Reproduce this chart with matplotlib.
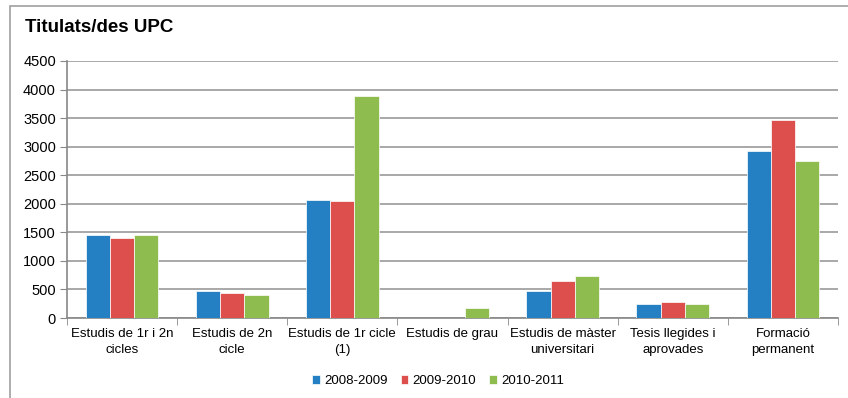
import matplotlib.pyplot as plt
import matplotlib.patches as patches
import numpy as np

categories = [
    "Estudis de 1r i 2n\ncicles",
    "Estudis de 2n\ncicle",
    "Estudis de 1r cicle\n(1)",
    "Estudis de grau",
    "Estudis de màster\nuniversitari",
    "Tesis llegides i\naprovades",
    "Formació\npermanent",
]
years = ["2008-2009", "2009-2010", "2010-2011"]
v_2008 = [1450, 480, 2070, 0, 480, 250, 2930]
v_2009 = [1400, 430, 2045, 0, 650, 275, 3465]
v_2010 = [1450, 405, 3890, 180, 735, 250, 2755]
colors = ["#2580c3", "#dc4f4d", "#8fbc4f"]

plt.rcParams["font.family"] = ["Liberation Sans", "DejaVu Sans"]

fig = plt.figure(figsize=(8.48, 3.98), dpi=100)
ax = fig.add_axes([67 / 848, 1 - 318 / 398, (838 - 67) / 848, (318 - 61) / 398])

# outer frame of the chart area
fig.patches.append(patches.Rectangle((10 / 848, -0.05), 1.0, 1 - 6 / 398 + 0.05,
                                     transform=fig.transFigure, fill=False,
                                     edgecolor="#a0a0a0", linewidth=1.2))

x = np.arange(len(categories))
w = 0.22
for i, (vals, lab) in enumerate(zip([v_2008, v_2009, v_2010], years)):
    ax.bar(x + (i - 1) * w, vals, w, color=colors[i], label=lab,
           edgecolor="white", linewidth=0.5, zorder=3)

ax.set_xlim(-0.5, len(categories) - 0.5)
ax.set_ylim(0, 4500)
ax.set_yticks(range(0, 4501, 500))
ax.tick_params(axis="y", labelsize=10.5, length=5, color="#888888", pad=3)
ax.yaxis.grid(True, color="#9a9a9a", linewidth=1.2, zorder=0)

ax.set_xticks(x)
ax.set_xticklabels(categories, fontsize=9.5, linespacing=1.45)
ax.tick_params(axis="x", length=0, pad=7)
ax.set_xticks(np.arange(-0.5, len(categories)), minor=True)
ax.tick_params(axis="x", which="minor", length=5, color="#888888")

for s in ["top", "right"]:
    ax.spines[s].set_visible(False)
for s in ["left", "bottom"]:
    ax.spines[s].set_color("#888888")
    ax.spines[s].set_linewidth(1.2)

fig.text(25 / 848, 1 - 28 / 398, "Titulats/des UPC", fontsize=13.5, fontweight="bold",
         va="center", ha="left")

fig.legend(loc="center", bbox_to_anchor=(438 / 848, 1 - 381 / 398), ncol=3, frameon=False,
           fontsize=9.5, handlelength=0.6, handleheight=0.6, handletextpad=0.3,
           columnspacing=1.0)

fig.savefig("out.png", dpi=100)
